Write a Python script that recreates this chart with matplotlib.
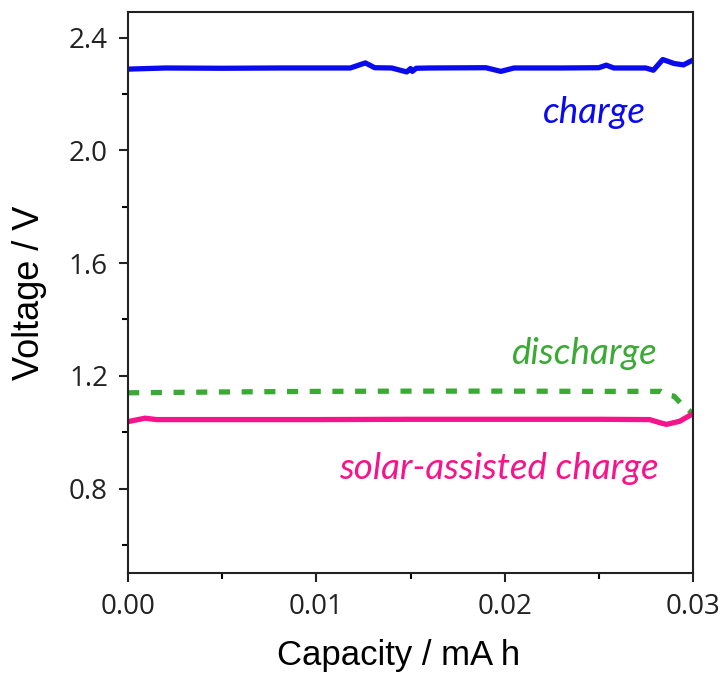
import numpy as np
import matplotlib
matplotlib.use("Agg")
import matplotlib.pyplot as plt
from matplotlib.ticker import MultipleLocator, FormatStrFormatter

# values
charge_cap = [0.0, 0.002, 0.005, 0.008, 0.0118, 0.0126, 0.0131, 0.0140, 0.0148,
              0.0150, 0.0151, 0.0153, 0.0160, 0.0190, 0.0198, 0.0205, 0.0230,
              0.0250, 0.0254, 0.0258, 0.0275, 0.0279, 0.0284, 0.0290, 0.0295, 0.0300]
charge_v = [2.288, 2.292, 2.291, 2.292, 2.292, 2.310, 2.293, 2.292, 2.278,
            2.290, 2.280, 2.291, 2.292, 2.293, 2.280, 2.292, 2.292,
            2.293, 2.302, 2.292, 2.292, 2.284, 2.322, 2.308, 2.303, 2.320]

discharge_cap = [0.0, 0.005, 0.010, 0.015, 0.020, 0.025, 0.0283, 0.0286, 0.0290,
                 0.0294, 0.0300]
discharge_v = [1.140, 1.143, 1.145, 1.146, 1.146, 1.145, 1.145, 1.132, 1.128,
               1.100, 1.066]

solar_cap = [0.0, 0.0009, 0.0015, 0.005, 0.010, 0.015, 0.020, 0.025, 0.0277,
             0.0283, 0.0286, 0.0293, 0.0300]
solar_v = [1.038, 1.050, 1.045, 1.045, 1.045, 1.046, 1.046, 1.046, 1.045,
           1.033, 1.028, 1.039, 1.066]

x_ticks = [0.00, 0.01, 0.02, 0.03]
y_ticks = [0.8, 1.2, 1.6, 2.0, 2.4]

blue = "#0a0aef"
green = "#3aaa35"
pink = "#f7148a"

fig = plt.figure(figsize=(7.24, 6.76), dpi=100)
ax = fig.add_axes([0.177, 0.152, 0.780, 0.830])

ax.plot(charge_cap, charge_v, color=blue, lw=3.8, solid_joinstyle="round")
ax.plot(discharge_cap, discharge_v, color=green, lw=3.8, dashes=(2.1, 2.2))
ax.plot(solar_cap, solar_v, color=pink, lw=3.8, solid_joinstyle="round")

ann_font = dict(family="Lato", style="italic", fontsize=26.5, ha="center", va="center")
ax.text(0.02475, 2.135, "charge", color=blue, **ann_font)
ax.text(0.02427, 1.281, "discharge", color=green, **ann_font)
ax.text(0.0197, 0.872, "solar-assisted charge", color=pink, **ann_font)

ax.set_xlim(0.0, 0.03)
ax.set_ylim(0.5, 2.49)
ax.set_xticks(x_ticks)
ax.set_yticks(y_ticks)
ax.xaxis.set_minor_locator(MultipleLocator(0.005))
ax.yaxis.set_minor_locator(MultipleLocator(0.2))
ax.xaxis.set_major_formatter(FormatStrFormatter("%.2f"))
ax.yaxis.set_major_formatter(FormatStrFormatter("%.1f"))

for s in ax.spines.values():
    s.set_linewidth(1.5)
    s.set_color("#222222")
ax.tick_params(which="major", direction="out", length=6.5, width=1.5, pad=8,
               labelsize=20, colors="#222222")
ax.tick_params(which="minor", direction="out", length=4.5, width=1.5)
for lab in ax.get_xticklabels() + ax.get_yticklabels():
    lab.set_family("Open Sans")

ax.set_xlabel("Capacity / mA h", family="Liberation Sans", fontsize=25)
ax.set_ylabel("Voltage / V", family="Liberation Sans", fontsize=26, labelpad=16)
ax.xaxis.set_label_coords(0.478, -0.118)

fig.savefig("out.png", dpi=100)
